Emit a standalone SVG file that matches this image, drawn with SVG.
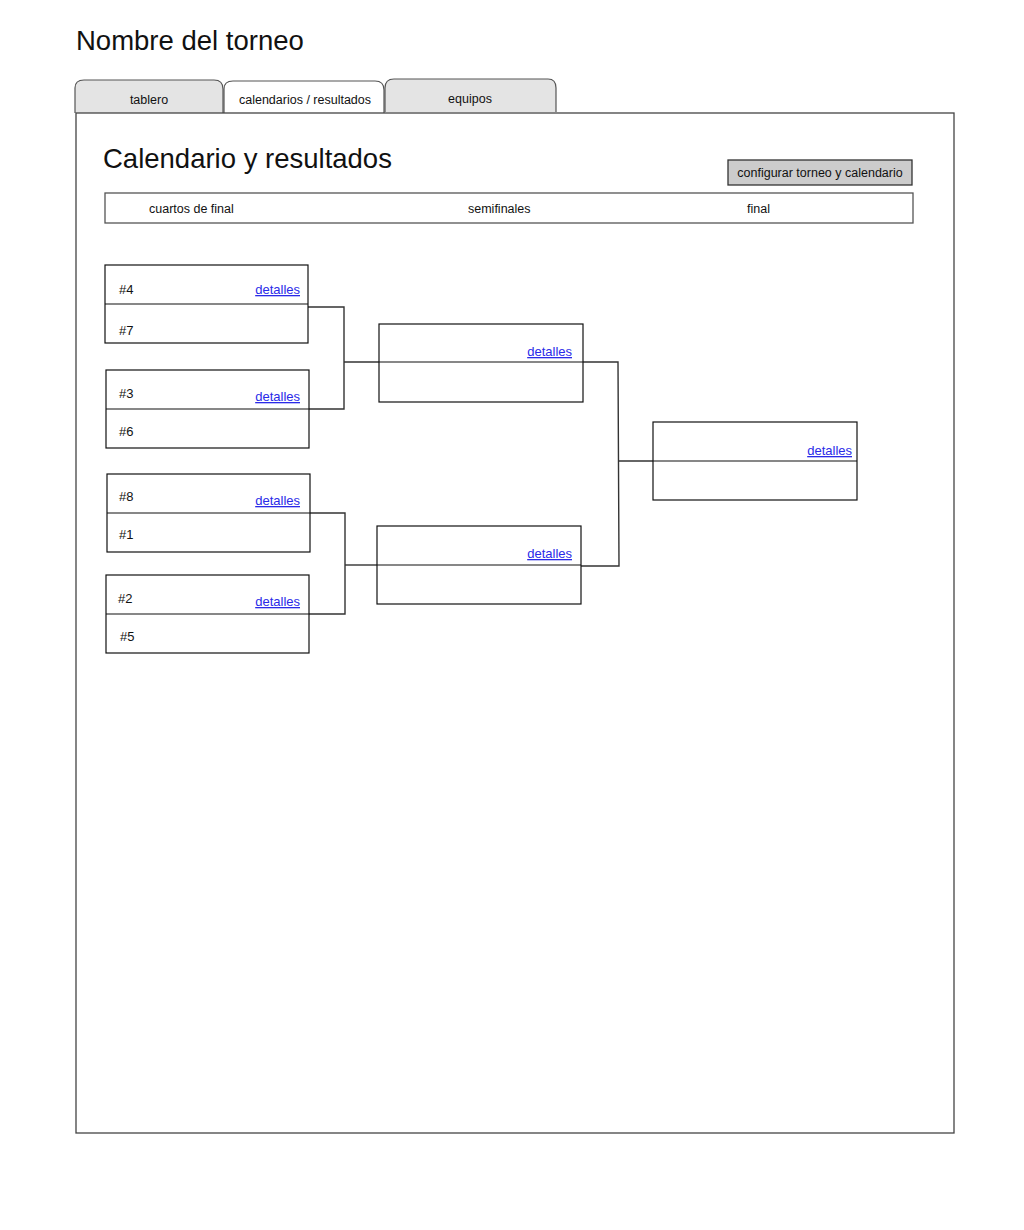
<svg xmlns="http://www.w3.org/2000/svg" width="1024" height="1230" viewBox="0 0 1024 1230">
<style>
  text { font-family: "Liberation Sans", "Noto Sans", sans-serif; fill: #111; }
  .big { font-size: 27.5px; }
  .sm { font-size: 12.5px; }
  .seed { font-size: 13px; }
  .link { font-size: 13px; fill: #2a2ae8; text-decoration: underline; }
  .box { fill: #ffffff; stroke: #111; stroke-width: 1.2; }
  .div { stroke: #111; stroke-width: 1.2; fill: none; }
  .conn { stroke: #333; stroke-width: 1.4; fill: none; }
  .tab { stroke: #555; stroke-width: 1.2; }
</style>
<rect width="1024" height="1230" fill="#ffffff"/>

<g id="page-title">
  <text class="big" x="76" y="50">Nombre del torneo</text>
</g>

<g id="tabs">
  <g id="tab-tablero">
    <path class="tab" d="M75,113 V88 Q75,80 84,80 H214 Q223,80 223,89 V113" fill="#e4e4e4"/>
    <text class="sm" x="149" y="104" text-anchor="middle">tablero</text>
  </g>
  <g id="tab-calendarios">
    <path class="tab" d="M224,113 V89 Q224,81 233,81 H375 Q384,81 384,90 V113" fill="#ffffff"/>
    <text class="sm" x="305" y="104" text-anchor="middle">calendarios / resultados</text>
  </g>
  <g id="tab-equipos">
    <path class="tab" d="M385,112 V88 Q385,79 394,79 H548 Q556,79 556,88 V112" fill="#e4e4e4"/>
    <text class="sm" x="470" y="103" text-anchor="middle">equipos</text>
  </g>
</g>

<g id="panel">
  <rect x="76" y="113" width="878" height="1020" fill="none" stroke="#444" stroke-width="1.3"/>
  <text class="big" x="103" y="168">Calendario y resultados</text>
</g>

<g id="btn-configurar">
  <rect x="728" y="160" width="184" height="25" fill="#cccccc" stroke="#333" stroke-width="1.3"/>
  <text class="sm" x="820" y="177" text-anchor="middle">configurar torneo y calendario</text>
</g>

<g id="round-header">
  <rect x="105" y="193" width="808" height="30" fill="#ffffff" stroke="#555" stroke-width="1.3"/>
  <text class="sm" x="149" y="213">cuartos de final</text>
  <text class="sm" x="468" y="213">semifinales</text>
  <text class="sm" x="747" y="213">final</text>
</g>

<g id="connectors">
  <path class="conn" d="M308,307 H344 V409 H309"/>
  <path class="conn" d="M344,362 H379"/>
  <path class="conn" d="M310,513 H345 V614 H309"/>
  <path class="conn" d="M345,565 H377"/>
  <path class="conn" d="M583,362 H618 L619,566 H581"/>
  <path class="conn" d="M619,461 H653"/>
</g>

<g id="qf1">
  <rect class="box" x="105" y="265" width="203" height="78"/>
  <path class="div" d="M105,304 H308"/>
  <text class="seed" x="119" y="294">#4</text>
  <text class="link" x="300" y="294" text-anchor="end">detalles</text>
  <text class="seed" x="119" y="335">#7</text>
</g>

<g id="qf2">
  <rect class="box" x="106" y="370" width="203" height="78"/>
  <path class="div" d="M106,409 H309"/>
  <text class="seed" x="119" y="398">#3</text>
  <text class="link" x="300" y="401" text-anchor="end">detalles</text>
  <text class="seed" x="119" y="436">#6</text>
</g>

<g id="qf3">
  <rect class="box" x="107" y="474" width="203" height="78"/>
  <path class="div" d="M107,513 H310"/>
  <text class="seed" x="119" y="501">#8</text>
  <text class="link" x="300" y="505" text-anchor="end">detalles</text>
  <text class="seed" x="119" y="539">#1</text>
</g>

<g id="qf4">
  <rect class="box" x="106" y="575" width="203" height="78"/>
  <path class="div" d="M106,614 H309"/>
  <text class="seed" x="118" y="603">#2</text>
  <text class="link" x="300" y="606" text-anchor="end">detalles</text>
  <text class="seed" x="120" y="641">#5</text>
</g>

<g id="sf1">
  <rect class="box" x="379" y="324" width="204" height="78"/>
  <path class="div" d="M379,362 H583"/>
  <text class="link" x="572" y="356" text-anchor="end">detalles</text>
</g>

<g id="sf2">
  <rect class="box" x="377" y="526" width="204" height="78"/>
  <path class="div" d="M377,565 H581"/>
  <text class="link" x="572" y="558" text-anchor="end">detalles</text>
</g>

<g id="final">
  <rect class="box" x="653" y="422" width="204" height="78"/>
  <path class="div" d="M653,461 H857"/>
  <text class="link" x="852" y="455" text-anchor="end">detalles</text>
</g>
</svg>
